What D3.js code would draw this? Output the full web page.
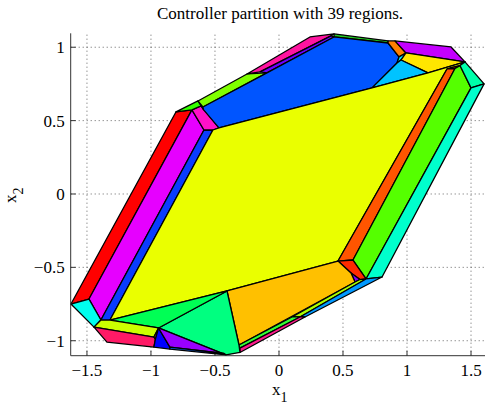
<!DOCTYPE html>
<html><head><meta charset="utf-8">
<script src="https://cdn.jsdelivr.net/npm/d3@7"></script>
<style>body{margin:0;background:#fff;} text{font-family:"Liberation Serif","Times New Roman",serif;fill:#000;}</style>
</head><body>
<svg id="c" width="485" height="403"></svg>
<script>
const titleText = "Controller partition with 39 regions.";
const xTicks = [-1.5, -1, -0.5, 0, 0.5, 1, 1.5];
const yTicks = [-1, -0.5, 0, 0.5, 1];
const xTickLabels = ["\u22121.5", "\u22121", "\u22120.5", "0", "0.5", "1", "1.5"];
const yTickLabels = ["\u22121", "\u22120.5", "0", "0.5", "1"];

const regionColors = [
  "#ff0000", "#e600ff", "#0a3cff", "#00ffee", "#ff10c8", "#33ff00", "#2a00ff",
  "#80ff00", "#ff14a0", "#6a00ff", "#22cc22", "#0055ff", "#ff7f00", "#c400ff",
  "#00e5ff", "#ffe600", "#00c3ff", "#eaff00", "#ff2200", "#ff5500", "#55ff00",
  "#00ffaa", "#00ffcc", "#ff2a00", "#7f00ff", "#ffc000", "#aaff00", "#0099ff",
  "#33ff33", "#ff1a8c", "#00ff80", "#00ff55", "#ccff00", "#ff1a66", "#ffaa00",
  "#0000ff", "#9900ff", "#0066ff"
];
const regionVertices = [
  [[-1.625,-0.750],[-0.805,0.559],[-0.680,0.573],[-1.484,-0.716]],
  [[-1.484,-0.716],[-0.680,0.573],[-0.586,0.436],[-1.391,-0.859]],
  [[-1.391,-0.859],[-0.586,0.436],[-0.516,0.436],[-1.320,-0.859]],
  [[-1.625,-0.750],[-1.484,-0.716],[-1.391,-0.859],[-1.445,-0.907]],
  [[-0.680,0.573],[-0.609,0.600],[-0.469,0.450],[-0.516,0.436],[-0.586,0.436]],
  [[-0.805,0.559],[-0.633,0.634],[-0.609,0.600],[-0.680,0.573]],
  [[-0.609,0.600],[-0.594,0.593],[-0.590,0.575]],
  [[-0.633,0.634],[-0.250,0.818],[-0.094,0.825],[-0.594,0.593]],
  [[-0.250,0.818],[0.242,1.070],[0.430,1.091],[0.406,1.077],[-0.148,0.832]],
  [[-0.148,0.832],[0.406,1.077],[0.430,1.070],[-0.094,0.825]],
  [[0.430,1.091],[0.852,1.043],[0.852,1.029],[0.430,1.070]],
  [[-0.594,0.593],[-0.094,0.825],[0.430,1.070],[0.852,1.029],[0.9375,0.934],[0.922,0.893],[0.727,0.723],[-0.469,0.450],[-0.590,0.575]],
  [[0.852,1.043],[0.906,1.043],[0.992,0.961],[0.9375,0.934],[0.852,1.029]],
  [[0.906,1.043],[1.344,1.002],[1.453,0.900],[0.992,0.961]],
  [[0.9375,0.934],[0.992,0.961],[0.953,0.913],[0.922,0.893]],
  [[0.953,0.913],[0.992,0.961],[1.453,0.900],[1.164,0.825]],
  [[0.922,0.893],[0.953,0.913],[1.164,0.825],[0.727,0.723]],
  [[-0.516,0.436],[-0.469,0.450],[0.727,0.723],[1.164,0.825],[1.453,0.900],[1.414,0.875],[1.3125,0.852],[0.461,-0.457],[-0.406,-0.661],[-1.320,-0.859]],
  [[1.336,0.860],[1.414,0.875],[1.375,0.855]],
  [[1.3125,0.852],[1.375,0.855],[0.578,-0.450],[0.461,-0.457]],
  [[1.375,0.855],[1.414,0.875],[1.500,0.723],[0.680,-0.579],[0.578,-0.450]],
  [[1.414,0.875],[1.453,0.900],[1.602,0.750],[1.500,0.723]],
  [[1.500,0.723],[1.602,0.750],[0.805,-0.566],[0.680,-0.579]],
  [[0.461,-0.457],[0.578,-0.450],[0.680,-0.579],[0.633,-0.583],[0.5625,-0.539]],
  [[0.5625,-0.539],[0.633,-0.583],[0.594,-0.600]],
  [[-0.406,-0.661],[0.461,-0.457],[0.5625,-0.539],[0.594,-0.600],[-0.3125,-1.029]],
  [[0.594,-0.600],[0.633,-0.583],[0.680,-0.579],[0.164,-0.838],[0.102,-0.838]],
  [[0.680,-0.579],[0.805,-0.566],[0.203,-0.838],[0.164,-0.838]],
  [[0.102,-0.838],[0.164,-0.838],[-0.305,-1.050],[-0.3125,-1.029]],
  [[0.164,-0.838],[0.203,-0.838],[-0.305,-1.080],[-0.305,-1.050]],
  [[-0.406,-0.661],[-0.3125,-1.029],[-0.305,-1.080],[-0.414,-1.097],[-0.941,-0.913]],
  [[-1.320,-0.859],[-0.406,-0.661],[-0.941,-0.913]],
  [[-1.445,-0.907],[-1.391,-0.859],[-1.320,-0.859],[-0.941,-0.913],[-0.977,-0.975]],
  [[-1.445,-0.907],[-0.977,-0.975],[-0.965,-0.988],[-0.977,-1.043],[-1.344,-1.009]],
  [[-0.977,-0.975],[-0.941,-0.913],[-0.965,-0.988]],
  [[-0.941,-0.913],[-0.965,-0.988],[-0.977,-1.043],[-0.852,-1.057],[-0.852,-1.043]],
  [[-0.941,-0.913],[-0.852,-1.043],[-0.430,-1.087],[-0.414,-1.097]],
  [[-0.852,-1.043],[-0.430,-1.087],[-0.414,-1.097],[-0.852,-1.057]]
];

const svg = d3.select("#c");
const x = d3.scaleLinear().domain([-1.627, 1.61]).range([70.7, 485.1]);
const y = d3.scaleLinear().domain([-1.102, 1.095]).range([355.7, 33.3]);
const [x0, x1] = x.range();
const [y0, y1] = y.range();

// grid
const grid = svg.append("g").attr("stroke", "#555").attr("stroke-width", 0.9)
  .attr("stroke-dasharray", "1,3");
grid.selectAll(".gx").data(xTicks).join("line")
  .attr("x1", d => x(d)).attr("x2", d => x(d)).attr("y1", y0).attr("y2", y1);
grid.selectAll(".gy").data(yTicks).join("line")
  .attr("y1", d => y(d)).attr("y2", d => y(d)).attr("x1", x0).attr("x2", x1);

// ticks
const ticks = svg.append("g").attr("stroke", "#333").attr("stroke-width", 1);
ticks.selectAll(".tx").data(xTicks).join("line")
  .attr("x1", d => x(d)).attr("x2", d => x(d)).attr("y1", y0).attr("y2", y0 - 5);
ticks.selectAll(".ty").data(yTicks).join("line")
  .attr("y1", d => y(d)).attr("y2", d => y(d)).attr("x1", x0).attr("x2", x0 + 5);

// regions
const line = d3.line().x(d => x(d[0])).y(d => y(d[1])).curve(d3.curveLinearClosed);
svg.append("g").selectAll("path").data(regionVertices).join("path")
  .attr("d", d => line(d))
  .attr("fill", (d, i) => regionColors[i])
  .attr("stroke", "#000").attr("stroke-width", 1.3).attr("stroke-linejoin", "round");

// axis lines
svg.append("line").attr("x1", x0).attr("x2", x0).attr("y1", y0).attr("y2", y1)
  .attr("stroke", "#333").attr("stroke-width", 1);
svg.append("line").attr("x1", x0).attr("x2", x1).attr("y1", y0).attr("y2", y0)
  .attr("stroke", "#333").attr("stroke-width", 1);

// tick labels
svg.append("g").selectAll("text").data(xTicks).join("text")
  .attr("x", d => x(d)).attr("y", 375.5).attr("text-anchor", "middle")
  .attr("font-size", 17).text((d, i) => xTickLabels[i]);
svg.append("g").selectAll("text").data(yTicks).join("text")
  .attr("x", x0 - 6).attr("y", d => y(d) + 6).attr("text-anchor", "end")
  .attr("font-size", 17).text((d, i) => yTickLabels[i]);

// title
svg.append("text").attr("x", 280).attr("y", 19).attr("text-anchor", "middle")
  .attr("font-size", 17).text(titleText);

// axis labels
const xl = svg.append("text").attr("x", 272).attr("y", 394.5).attr("font-size", 17);
xl.append("tspan").text("x");
xl.append("tspan").attr("dy", 7).attr("font-size", 14).text("1");
const yl = svg.append("text").attr("transform", "translate(16,203) rotate(-90)").attr("font-size", 17);
yl.append("tspan").text("x");
yl.append("tspan").attr("dy", 7).attr("font-size", 14).text("2");
</script>
</body></html>
